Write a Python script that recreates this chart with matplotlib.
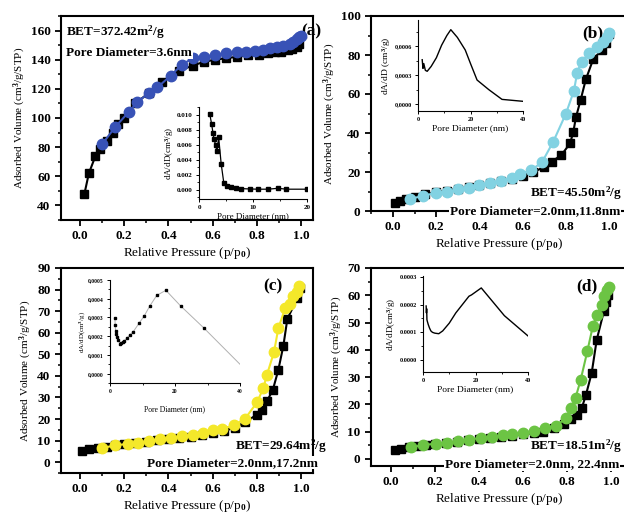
import numpy as np
import matplotlib
matplotlib.use("Agg")
import matplotlib.pyplot as plt
from matplotlib.ticker import MultipleLocator, FuncFormatter

plt.rcParams['font.family'] = 'Liberation Serif'
plt.rcParams['font.weight'] = 'bold'
plt.rcParams['mathtext.fontset'] = 'custom'
plt.rcParams['mathtext.rm'] = 'Liberation Serif:bold'
plt.rcParams['mathtext.bf'] = 'Liberation Serif:bold'
plt.rcParams['mathtext.it'] = 'Liberation Serif:bold:italic'

# ---- isotherm data (relative pressure, adsorbed volume) ----
a_ads_p = [0.02, 0.04, 0.07, 0.09, 0.12, 0.15, 0.17, 0.20, 0.25, 0.31, 0.37, 0.45, 0.51, 0.56,
           0.61, 0.66, 0.71, 0.76, 0.81, 0.85, 0.88, 0.91, 0.94, 0.96, 0.98, 0.99]
a_ads_v = [48, 62, 74, 79, 84, 90, 96, 100, 110, 117, 125, 132.5, 136, 138.5,
           140, 141, 142, 143, 143.5, 144.5, 145, 145.5, 146.5, 147.5, 149, 151]
a_des_p = [0.1, 0.16, 0.22, 0.26, 0.31, 0.35, 0.41, 0.46, 0.51, 0.56, 0.61, 0.66, 0.71, 0.75,
           0.79, 0.83, 0.86, 0.89, 0.92, 0.95, 0.965, 0.98, 0.99, 1.0]
a_des_v = [82, 94, 104, 111, 117, 121, 129, 136.5, 141, 142, 143.3, 144.5, 145, 145.6,
           146, 147, 148, 148.6, 149.5, 151, 152.5, 154, 155.5, 156]

b_ads_p = [0.01, 0.03, 0.06, 0.1, 0.15, 0.2, 0.25, 0.3, 0.35, 0.4, 0.45, 0.5, 0.55, 0.6, 0.65,
           0.7, 0.735, 0.78, 0.82, 0.835, 0.847, 0.869, 0.893, 0.927, 0.966, 0.986, 1.0]
b_ads_v = [4.0, 5.0, 6.0, 7.3, 8.6, 9.6, 10.5, 11.4, 12.3, 13.3, 14.3, 15.3, 16.5, 18.0, 20.0,
           22.5, 25.3, 28.7, 34.7, 40.5, 48.0, 57.0, 67.5, 77.8, 82.5, 86.3, 91.0]
b_des_p = [0.08, 0.14, 0.2, 0.25, 0.3, 0.35, 0.4, 0.45, 0.5, 0.55, 0.59, 0.64, 0.69, 0.742,
           0.801, 0.838, 0.853, 0.873, 0.909, 0.943, 0.974, 0.992, 1.0]
b_des_v = [6.3, 7.7, 9.4, 9.9, 11.1, 11.9, 13.1, 14.5, 15.5, 17.0, 18.9, 21.0, 25.0, 35.5,
           50.0, 61.7, 71.0, 76.6, 80.9, 84.3, 86.8, 89.4, 91.4]

c_ads_p = [0.01, 0.04, 0.08, 0.12, 0.16, 0.2, 0.25, 0.3, 0.35, 0.4, 0.45, 0.5, 0.55, 0.6, 0.65,
           0.7, 0.747, 0.8, 0.822, 0.845, 0.872, 0.897, 0.92, 0.938, 0.983, 0.995]
c_ads_v = [5.4, 6.0, 6.6, 7.2, 7.8, 8.3, 8.9, 9.5, 10.1, 10.7, 11.3, 11.9, 12.6, 13.4, 14.4,
           16.0, 18.6, 22.0, 24.0, 28.2, 33.4, 42.7, 54.0, 66.4, 76.0, 80.7]
c_des_p = [0.098, 0.158, 0.216, 0.264, 0.312, 0.362, 0.41, 0.46, 0.51, 0.558, 0.603, 0.644,
           0.697, 0.747, 0.802, 0.83, 0.845, 0.878, 0.897, 0.928, 0.95, 0.965, 0.98, 0.992]
c_des_v = [6.5, 7.8, 8.5, 9.0, 9.9, 10.6, 11.2, 12.0, 12.6, 13.5, 15.0, 15.5,
           17.1, 20.2, 27.9, 34.6, 40.3, 51.2, 62.0, 71.4, 73.2, 76.8, 79.0, 81.5]

d_ads_p = [0.018, 0.044, 0.08, 0.12, 0.16, 0.2, 0.25, 0.3, 0.35, 0.4, 0.45, 0.5, 0.55, 0.6,
           0.65, 0.692, 0.74, 0.786, 0.82, 0.844, 0.867, 0.886, 0.912, 0.935, 0.968, 0.977, 0.985]
d_ads_v = [3.1, 3.7, 4.2, 4.6, 5.0, 5.4, 5.9, 6.3, 6.8, 7.2, 7.6, 8.0, 8.5, 9.0,
           9.5, 10.0, 11.2, 12.7, 14.5, 16.2, 18.6, 23.5, 31.5, 43.7, 54.3, 57.5, 60.2]
d_des_p = [0.089, 0.147, 0.205, 0.253, 0.306, 0.356, 0.408, 0.458, 0.508, 0.548, 0.6, 0.65,
           0.7, 0.75, 0.795, 0.818, 0.839, 0.862, 0.892, 0.917, 0.935, 0.958, 0.97, 0.983, 0.99]
d_des_v = [4.2, 5.1, 5.6, 6.0, 6.4, 7.1, 7.7, 8.2, 8.6, 9.1, 9.5, 10.3,
           11.3, 12.2, 14.9, 18.6, 22.5, 29.0, 39.4, 48.6, 52.9, 56.5, 59.6, 62.1, 62.9]

# ---- pore size distributions (diameter nm, dA/dD) ----
a_psd_d = [1.98, 2.35, 2.6, 2.8, 3.1, 3.33, 3.64, 4.1, 4.6, 5.2, 6.0, 6.8, 7.8, 9.4, 10.9,
           12.8, 14.6, 16.2, 20.0]
a_psd_y = [0.0101, 0.0087, 0.0075, 0.0067, 0.0059, 0.0051, 0.0070, 0.0035, 0.0009, 0.0005,
           0.00035, 0.0002, 0.00018, 0.00013, 0.0001, 0.0001, 0.00022, 0.0001, 0.0001]

b_psd_d = [1.6, 1.9, 2.2, 2.8, 3.5, 5, 7, 9, 11, 12.5, 15, 18, 20, 22.5, 27, 32, 40]
b_psd_y = [0.00046, 0.00037, 0.00042, 0.00035, 0.00034, 0.00039, 0.00048, 0.00061, 0.00071,
           0.00077, 0.00069, 0.00056, 0.00042, 0.00025, 0.00015, 0.00005, 0.00003]

c_psd_d = [1.5, 1.6, 1.7, 1.9, 2.2, 2.6, 3.0, 3.4, 3.9, 4.4, 5.2, 6.0, 7.2, 8.9, 10.6, 12.2,
           14.4, 17.2, 21.7, 28.8, 40]
c_psd_y = [2.95e-4, 2.6e-4, 2.3e-4, 2.1e-4, 1.95e-4, 1.82e-4, 1.6e-4, 1.65e-4, 1.7e-4, 1.76e-4,
           1.9e-4, 2.05e-4, 2.25e-4, 2.68e-4, 3.1e-4, 3.6e-4, 4.18e-4, 4.45e-4, 3.62e-4,
           2.45e-4, 0.5e-4]

d_psd_d = [1.2, 1.3, 1.4, 1.5, 1.7, 2.0, 2.5, 3.0, 3.6, 4.5, 6.0, 7.5, 10, 12.5, 15, 17.5,
           18.5, 22.2, 31, 40]
d_psd_y = [1.95e-4, 1.7e-4, 1.85e-4, 1.45e-4, 1.38e-4, 1.28e-4, 1.15e-4, 1.05e-4, 1.0e-4,
           0.97e-4, 0.95e-4, 1.05e-4, 1.33e-4, 1.7e-4, 2.0e-4, 2.3e-4, 2.35e-4, 2.6e-4,
           1.6e-4, 0.87e-4]

W, H = 624, 516
fig = plt.figure(figsize=(W / 100, H / 100), dpi=100)
WHITE = dict(facecolor='white', edgecolor='none', pad=0.5)


def px_axes(left, top, right, bottom):
    return fig.add_axes([left / W, 1 - bottom / H, (right - left) / W, (bottom - top) / H])


def main_panel(box, xlim, ylim, ymaj, ymin, ads, des, color, tag, tagpos, bet, pore):
    ax = px_axes(*box)
    ax.plot(ads[0], ads[1], '-s', color='black', ms=6, lw=1.5, zorder=3)
    ax.plot(des[0], des[1], '-o', color=color, ms=7.5, lw=1.5, zorder=4)
    ax.set_xlim(*xlim)
    ax.set_ylim(*ylim)
    ax.xaxis.set_major_locator(MultipleLocator(0.2))
    ax.xaxis.set_minor_locator(MultipleLocator(0.1))
    ax.yaxis.set_major_locator(MultipleLocator(ymaj))
    ax.yaxis.set_minor_locator(MultipleLocator(ymin))
    ax.xaxis.set_major_formatter(FuncFormatter(lambda v, p: '%.1f' % v))
    ax.tick_params(which='major', direction='out', length=4.5, width=1.3, labelsize=9.5, pad=3)
    ax.tick_params(which='minor', direction='out', length=2.5, width=1.1)
    for lbl in ax.get_xticklabels() + ax.get_yticklabels():
        lbl.set_fontweight('bold')
    for s in ax.spines.values():
        s.set_linewidth(1.5)
    ax.set_xlabel(r'Relative Pressure (p/p$_0$)', fontsize=9.5, labelpad=2)
    ax.set_ylabel(r'Adsorbed Volume (cm$^3$/g/STP)', fontsize=8, labelpad=2)
    ax.text(tagpos[0], tagpos[1], tag, transform=ax.transAxes, fontsize=12.5,
            ha='right', va='top', zorder=2.5, bbox=WHITE, clip_on=False)
    ax.text(bet[0], bet[1], bet[2], transform=ax.transAxes, fontsize=9.5,
            ha='left', va='center', zorder=6, clip_on=False)
    ax.text(pore[0], pore[1], pore[2], transform=ax.transAxes, fontsize=9.5,
            ha='left', va='center', zorder=6, clip_on=False, bbox=WHITE)
    return ax


def inset(box, xlim, ylim, xmaj, ymaj, fmt, x, y, style, lsize, tsize):
    ax = px_axes(*box)
    if style == 'marks':
        ax.plot(x, y, '-s', color='black', ms=2.2, lw=0.9)
    elif style == 'graymarks':
        ax.plot(x, y, '-', color='#b0b0b0', lw=0.7)
        ax.plot(x[:-1], y[:-1], 's', color='black', ms=1.6, lw=0)
    else:
        ax.plot(x, y, '-', color='black', lw=1.0)
    ax.set_xlim(*xlim)
    ax.set_ylim(*ylim)
    ax.spines['top'].set_visible(False)
    ax.spines['right'].set_visible(False)
    for s in ('left', 'bottom'):
        ax.spines[s].set_linewidth(0.8)
    ax.patch.set_alpha(0)
    ax.xaxis.set_major_locator(MultipleLocator(xmaj))
    ax.xaxis.set_minor_locator(MultipleLocator(xmaj / 2))
    ax.yaxis.set_major_locator(MultipleLocator(ymaj))
    ax.yaxis.set_minor_locator(MultipleLocator(ymaj / 2))
    ax.yaxis.set_major_formatter(FuncFormatter(fmt))
    ax.xaxis.set_major_formatter(FuncFormatter(lambda v, p: '%d' % v))
    ax.tick_params(which='major', direction='out', length=2.5, width=0.7, labelsize=tsize, pad=2)
    ax.tick_params(which='minor', direction='out', length=1.5, width=0.6)
    ax.set_xlabel('Pore Diameter (nm)', fontsize=lsize, labelpad=1.5)
    return ax


ax_a = main_panel((61, 16, 313, 220), (-0.086, 1.054), (30, 170), 20, 10,
                  (a_ads_p, a_ads_v), (a_des_p, a_des_v), '#3852b6',
                  '(a)', (1.035, 0.965),
                  (0.02, 0.92, r'BET=372.42m$^2$/g'), (0.02, 0.82, 'Pore Diameter=3.6nm'))
ax_b = main_panel((371, 16, 626, 211), (-0.102, 1.079), (0, 100), 20, 10,
                  (b_ads_p, b_ads_v), (b_des_p, b_des_v), '#82d2e2',
                  '(b)', (0.91, 0.95),
                  (0.625, 0.09, r'BET=45.50m$^2$/g'), (0.31, 0.0, 'Pore Diameter=2.0nm,11.8nm'))
ax_c = main_panel((61, 268, 313, 473), (-0.086, 1.054), (-5, 90), 10, 5,
                  (c_ads_p, c_ads_v), (c_des_p, c_des_v), '#f4e82a',
                  '(c)', (0.88, 0.95),
                  (0.69, 0.13, r'BET=29.64m$^2$/g'), (0.34, 0.05, 'Pore Diameter=2.0nm,17.2nm'))
ax_d = main_panel((371, 268, 626, 466), (-0.091, 1.068), (-2.6, 70), 10, 5,
                  (d_ads_p, d_ads_v), (d_des_p, d_des_v), '#6cc444',
                  '(d)', (0.89, 0.95),
                  (0.625, 0.1, r'BET=18.51m$^2$/g'), (0.29, 0.01, 'Pore Diameter=2.0nm, 22.4nm'))

dot3 = lambda v, p: '%.3f' % v
dot4 = lambda v, p: '%.4f' % v
comma4 = lambda v, p: ('%.4f' % v).replace('.', ',')

ia = inset((199, 107, 307, 199), (0, 20), (-0.0012, 0.011), 10, 0.002, dot3,
           a_psd_d, a_psd_y, 'marks', 6.5, 5)
ia.set_ylabel(r'dA/dD(cm$^3$/g)', fontsize=6.5, labelpad=1)
ib = inset((418, 20, 523, 111), (0, 40), (-0.00007, 0.00087), 20, 0.0003, comma4,
           b_psd_d, b_psd_y, 'line', 6.8, 4.5)
ib.set_ylabel(r'dA/dD (cm$^3$/g)', fontsize=6.8, labelpad=1)
ic = inset((110, 280, 240, 383), (0, 40), (-0.00005, 0.0005), 20, 0.0001, comma4,
           c_psd_d, c_psd_y, 'graymarks', 5.5, 4)
ic.set_ylabel(r'dA/dD(cm$^3$/g)', fontsize=5, labelpad=1)
ic.xaxis.labelpad = 8
idd = inset((423, 276, 528, 372), (0, 40), (-0.000043, 0.000303), 20, 0.0001, dot4,
            d_psd_d, d_psd_y, 'line', 6.8, 4.5)
idd.set_ylabel(r'dA/dD(cm$^3$/g)', fontsize=6.5, labelpad=1)

fig.savefig('out.png', dpi=100)
